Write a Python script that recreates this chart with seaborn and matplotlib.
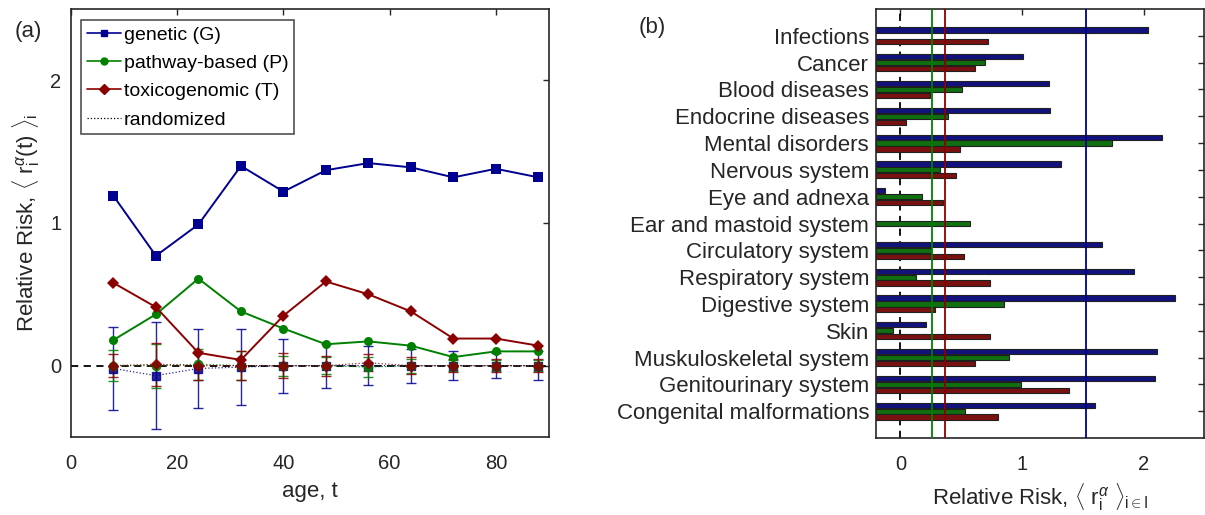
import numpy as np
import pandas as pd
import matplotlib.pyplot as plt
import seaborn as sns
from matplotlib.lines import Line2D

# --- Daten (a): relatives Risiko ueber das Alter ---
alter = [8, 16, 24, 32, 40, 48, 56, 64, 72, 80, 88]
genetisch = [1.19, 0.77, 0.99, 1.40, 1.22, 1.37, 1.42, 1.39, 1.32, 1.38, 1.32]
pathway = [0.18, 0.36, 0.61, 0.38, 0.26, 0.15, 0.17, 0.14, 0.06, 0.10, 0.10]
toxiko = [0.58, 0.41, 0.09, 0.04, 0.35, 0.59, 0.50, 0.38, 0.19, 0.19, 0.14]

# randomisierte Kontrollen (Mittelwert, Fehler)
rand_g = [-0.02, -0.07, -0.02, -0.01, 0.0, 0.0, 0.0, 0.0, 0.0, 0.0, 0.0]
rand_g_err = [0.29, 0.375, 0.28, 0.265, 0.19, 0.155, 0.135, 0.12, 0.10, 0.09, 0.10]
rand_p = [0.0, 0.0, 0.01, 0.0, 0.0, 0.0, -0.01, 0.0, 0.0, 0.0, 0.0]
rand_p_err = [0.11, 0.155, 0.11, 0.10, 0.07, 0.06, 0.07, 0.05, 0.04, 0.04, 0.04]
rand_t = [0.0, 0.01, 0.0, 0.0, 0.0, 0.0, 0.02, 0.0, 0.0, 0.0, 0.0]
rand_t_err = [0.08, 0.15, 0.10, 0.10, 0.09, 0.07, 0.06, 0.06, 0.045, 0.045, 0.045]

# --- Daten (b): Krankheitsgruppen ---
kategorien = ["Infections", "Cancer", "Blood diseases", "Endocrine diseases",
              "Mental disorders", "Nervous system", "Eye and adnexa",
              "Ear and mastoid system", "Circulatory system", "Respiratory system",
              "Digestive system", "Skin", "Muskuloskeletal system",
              "Genitourinary system", "Congenital malformations"]
bar_g = [2.04, 1.01, 1.22, 1.23, 2.155, 1.325, -0.13, np.nan, 1.66, 1.92,
         2.26, 0.21, 2.11, 2.09, 1.60]
bar_p = [np.nan, 0.70, 0.51, 0.39, 1.74, 0.33, 0.18, 0.57, 0.25, 0.13,
         0.85, -0.06, 0.89, 0.99, 0.53]
bar_t = [0.72, 0.61, 0.24, 0.05, 0.49, 0.46, 0.35, np.nan, 0.52, 0.74,
         0.285, 0.74, 0.61, 1.39, 0.80]
mittel = {"G": 1.525, "P": 0.263, "T": 0.37}

namen = ["genetic (G)", "pathway-based (P)", "toxicogenomic (T)"]
farben = ["#000090", "#008000", "#8B0000"]
marker = ["s", "o", "D"]
msize = [5.5, 6, 5.5]

sns.set_style("white")
plt.rcParams["font.family"] = ["Liberation Sans", "DejaVu Sans"]
plt.rcParams["mathtext.fontset"] = "custom"
plt.rcParams["mathtext.rm"] = "Liberation Sans"
plt.rcParams["mathtext.it"] = "Liberation Sans:italic"
textfarbe = "#262626"

fig = plt.figure(figsize=(12.05, 5.15), dpi=100)
ax1 = fig.add_axes([0.0589, 0.1515, 0.3967, 0.831])
ax2 = fig.add_axes([0.727, 0.1495, 0.2725, 0.833])

# ---------- Panel (a) ----------
ax1.axhline(0, color="k", lw=1.3, ls=(0, (4, 3)), zorder=1)

for mw, err, f, m, ms in zip([rand_g, rand_p, rand_t],
                             [rand_g_err, rand_p_err, rand_t_err],
                             farben, marker, msize):
    ax1.errorbar(alter, mw, yerr=err, color=f, marker=m, ms=ms, lw=0.9,
                 ls=":", capsize=3.4, elinewidth=1.0, alpha=0.85, zorder=2)

df_a = pd.DataFrame({
    "alter": alter * 3,
    "rr": genetisch + pathway + toxiko,
    "set": sum([[n] * len(alter) for n in namen], []),
})
sns.lineplot(data=df_a, x="alter", y="rr", hue="set", style="set",
             hue_order=namen, style_order=namen, palette=farben,
             markers=dict(zip(namen, marker)), dashes=False, lw=1.4,
             markersize=6.5, markeredgewidth=0, legend=False, ax=ax1, zorder=3)

ax1.set_xlim(0, 90)
ax1.set_ylim(-0.5, 2.5)
ax1.set_xticks([0, 20, 40, 60, 80])
ax1.set_yticks([0, 1, 2])
ax1.set_xlabel("age, t", fontsize=16, color=textfarbe, labelpad=6)
ax1.set_ylabel(r"Relative Risk, $\langle\ \mathrm{r}_\mathrm{i}^{\alpha}\mathrm{(t)}\ \rangle_\mathrm{i}$",
               fontsize=16, color=textfarbe, labelpad=6)

handles = [Line2D([], [], color=f, marker=m, ms=5, lw=1.2) for f, m in zip(farben, marker)]
handles.append(Line2D([], [], color="k", ls=":", lw=0.9))
leg = ax1.legend(handles, namen + ["randomized"], loc="upper left",
                 bbox_to_anchor=(0.021, 0.974), borderaxespad=0, fontsize=14,
                 handlelength=1.75, handletextpad=0.15, labelspacing=0.55,
                 borderpad=0.3, frameon=True, fancybox=False)
leg.get_frame().set_edgecolor("#262626")
leg.get_frame().set_linewidth(1.2)
for t in leg.get_texts():
    t.set_color("k")

# ---------- Panel (b) ----------
df_b = pd.DataFrame({
    "kategorie": kategorien * 3,
    "rr": bar_g + bar_p + bar_t,
    "set": ["G"] * 15 + ["P"] * 15 + ["T"] * 15,
})
sns.barplot(data=df_b, y="kategorie", x="rr", hue="set", order=kategorien,
            hue_order=["G", "P", "T"], palette=farben, orient="h",
            width=0.66, gap=0.12, edgecolor="#202020", linewidth=0.8,
            legend=False, ax=ax2, zorder=2)
# Balken beginnen am linken Achsenrand wie im Original
x0 = -0.2
for p in ax2.patches:
    w = p.get_width()
    p.set_x(x0)
    p.set_width(w - x0)

ax2.axvline(0, color="k", lw=1.3, ls=(0, (4, 3)), zorder=1)
for s, f in zip(["G", "P", "T"], farben):
    ax2.axvline(mittel[s], color=f, lw=1.3, zorder=3)

ax2.set_xlim(-0.2, 2.5)
ax2.set_ylim(15, -1)
ax2.set_xticks([0, 1, 2])
ax2.set_yticks(range(15))
ax2.set_yticklabels(kategorien, fontsize=16, color=textfarbe)
ax2.set_ylabel("")
ax2.set_xlabel(r"Relative Risk, $\langle\ \mathrm{r}_\mathrm{i}^{\alpha}\ \rangle_{\mathrm{i}\in\mathrm{I}}$",
               fontsize=16, color=textfarbe, labelpad=5)

for ax in (ax1, ax2):
    ax.tick_params(direction="in", length=4, width=1.0, top=True, right=True,
                   labelsize=14.5, labelcolor=textfarbe, pad=7)
    ax.tick_params(axis="x", pad=12)
    for sp in ax.spines.values():
        sp.set_color("#262626")
        sp.set_linewidth(1.2)
ax2.tick_params(axis="y", labelsize=16, pad=5)

fig.text(0.0232, 0.938, "(a)", fontsize=16, ha="center", va="center")
fig.text(0.541, 0.947, "(b)", fontsize=16, ha="center", va="center")

fig.savefig("out.png", dpi=100)
